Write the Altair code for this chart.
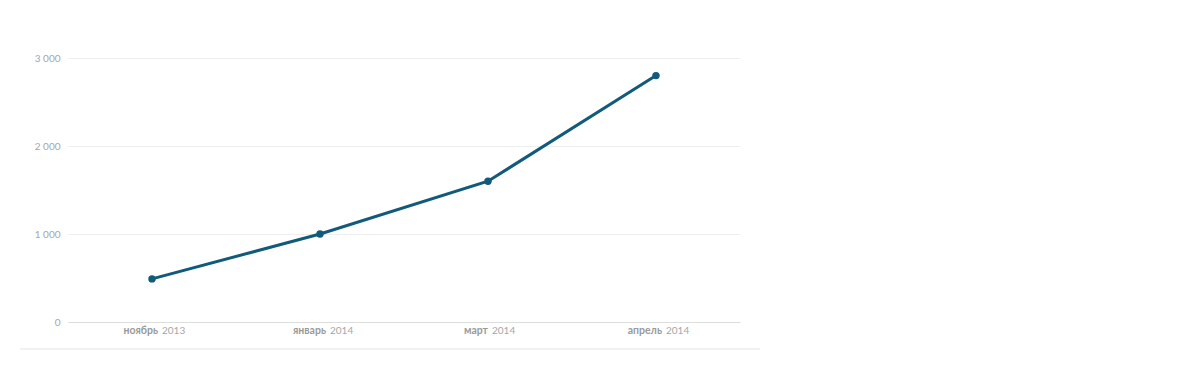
import altair as alt
import pandas as pd

months = ["ноябрь", "январь", "март", "апрель"]
years = ["2013", "2014", "2014", "2014"]
values = [490, 1000, 1600, 2800]
y_ticks = [0, 1000, 2000, 3000]

cats = [f"{m} {y}" for m, y in zip(months, years)]
df = pd.DataFrame({"cat": cats, "month": months, "year": years, "value": values})

# approximate text widths to center the two-part label (bold month + regular year)
def w_month(s):
    return len(s) * 6.0

def w_year(s):
    return len(s) * 5.0

gap = 4
df["dx_m"] = [(w_month(m) + gap + w_year(y)) / 2 - w_year(y) - gap for m, y in zip(months, years)]
df["dx_y"] = df["dx_m"] + gap

W, H = 672, 264
FONT = "Lato"

xenc = alt.X("cat:N", sort=cats, scale=alt.Scale(type="point", padding=0.5),
             axis=alt.Axis(labels=False, ticks=False, grid=False, domainColor="#dddddd",
                           domainWidth=1, title=None))
yenc = alt.Y("value:Q", scale=alt.Scale(domain=[0, 3000], nice=False),
             axis=alt.Axis(values=y_ticks, title=None, domain=False, ticks=False,
                           gridColor="#eeeeee", labelColor="#a6a6a6", labelFont=FONT,
                           labelFontSize=10, labelFontWeight="normal", labelPadding=8,
                           labelExpr="replace(format(datum.value, ','), ',', ' ')"))

base = alt.Chart(df)
line = base.mark_line(color="#125a79", strokeWidth=3).encode(x=xenc, y=yenc)
pts = base.mark_circle(color="#125a79", size=55, opacity=1).encode(x=xenc, y=yenc)

mlab = [alt.Chart(pd.DataFrame([r])).mark_text(
    align="right", baseline="middle", font=FONT, fontSize=10.5, fontWeight="bold",
    color="#9a9a9a", dx=r["dx_m"]).encode(
    x=alt.X("cat:N", sort=cats, scale=alt.Scale(type="point", padding=0.5)),
    y=alt.value(H + 9), text="month:N") for r in df.to_dict("records")]
ylab = [alt.Chart(pd.DataFrame([r])).mark_text(
    align="left", baseline="middle", font=FONT, fontSize=10, fontWeight="normal",
    color="#a6a6a6", dx=r["dx_y"]).encode(
    x=alt.X("cat:N", sort=cats, scale=alt.Scale(type="point", padding=0.5)),
    y=alt.value(H + 9), text="year:N") for r in df.to_dict("records")]

bottom = alt.Chart(df.head(1)).mark_rule(color="#e3e3e3", strokeWidth=1).encode(
    x=alt.value(-48), x2=alt.value(692), y=alt.value(H + 27))

chart = alt.layer(line, pts, *mlab, *ylab, bottom).properties(
    width=W, height=H,
    autosize=alt.AutoSizeParams(type="none"),
    padding={"left": 60, "top": 50, "right": 440, "bottom": 45},
    background="white",
).configure_view(stroke=None)

chart.save("out.html", embed_options={"renderer": "svg", "actions": False})
